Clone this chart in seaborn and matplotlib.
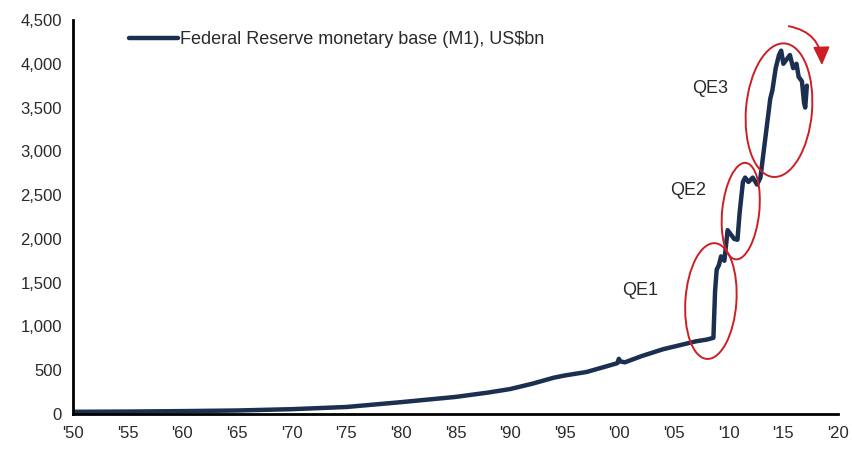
import matplotlib
matplotlib.use("Agg")
import matplotlib.pyplot as plt
import matplotlib.transforms as mtransforms
from matplotlib.patches import Ellipse
from matplotlib.ticker import FuncFormatter
import seaborn as sns
import pandas as pd

# Federal Reserve monetary base, US$bn (approximate readings)
years = [1950, 1955, 1960, 1965, 1970, 1975, 1980, 1985, 1988, 1990, 1992,
         1994, 1995, 1997, 1999.8, 1999.95, 2000.1, 2000.5, 2002, 2004, 2006,
         2007, 2008.0, 2008.6, 2008.75, 2008.9, 2009.1, 2009.3, 2009.6,
         2009.9, 2010.2, 2010.5, 2010.8, 2011.0, 2011.3, 2011.5, 2011.8,
         2012.2, 2012.6, 2012.9, 2013.2, 2013.5, 2013.8, 2014.0, 2014.3,
         2014.6, 2014.8, 2015.0, 2015.3, 2015.6, 2015.9, 2016.2, 2016.4,
         2016.7, 2016.9, 2017.0, 2017.15]
base = [25, 28, 33, 40, 55, 80, 135, 195, 245, 285, 345,
        415, 440, 480, 580, 630, 600, 590, 660, 740, 800,
        830, 850, 870, 1400, 1650, 1700, 1800, 1750,
        2100, 2050, 2000, 1990, 2300, 2650, 2700, 2650,
        2700, 2620, 2700, 3000, 3300, 3600, 3700, 3950,
        4100, 4150, 4000, 4050, 4100, 3950, 4000, 3850,
        3800, 3550, 3500, 3750]

series_label = "Federal Reserve monetary base (M1), US$bn"
x_ticks = list(range(1950, 2021, 5))
x_tick_labels = ["'%02d" % (y % 100) for y in x_ticks]
y_ticks = list(range(0, 4501, 500))

# QE episodes: label position, ellipse centre, ellipse size (inches), tilt
qe_names = ["QE1", "QE2", "QE3"]
qe_label_pos = [(2001.9, 1415), (2006.3, 2557), (2008.3, 3721)]
qe_ellipse_centre = [(2008.37, 1290), (2011.1, 2317), (2014.6, 3470)]
qe_ellipse_size = [(0.51, 1.16), (0.37, 0.97), (0.66, 1.34)]
qe_ellipse_tilt = [-4, -6, -5]

df = pd.DataFrame({"year": years, "base": base})

sns.set_theme(style="white")
plt.rcParams["font.family"] = ["Liberation Sans", "DejaVu Sans"]

navy = "#1b2f50"
red = "#cc1f25"
text_col = "#2a2a2a"

fig = plt.figure(figsize=(8.52, 4.5), dpi=100)
ax = fig.add_axes([73 / 852, 1 - 414 / 450, (838 - 73) / 852, (414 - 20) / 450])

sns.lineplot(data=df, x="year", y="base", ax=ax, color=navy, linewidth=3.2,
             label=series_label, zorder=3)

ax.set_xlim(1950, 2020)
ax.set_ylim(0, 4500)
ax.set_xticks(x_ticks)
ax.set_xticklabels(x_tick_labels)
ax.set_yticks(y_ticks)
ax.yaxis.set_major_formatter(FuncFormatter(lambda v, p: f"{int(v):,}"))
ax.set_xlabel("")
ax.set_ylabel("")

for side in ["top", "right"]:
    ax.spines[side].set_visible(False)
for side in ["left", "bottom"]:
    ax.spines[side].set_color("black")
    ax.spines[side].set_linewidth(2.0)
    ax.spines[side].set_zorder(4)

ax.tick_params(axis="both", which="major", direction="out", length=5, width=1.5,
               color="black", labelsize=12, labelcolor=text_col, pad=3)
ax.tick_params(axis="x", pad=4)

leg = ax.legend(loc="upper left", bbox_to_anchor=(0.064, 0.99), frameon=False,
                fontsize=13, handlelength=2.7, handletextpad=0.12,
                borderaxespad=0)
for t in leg.get_texts():
    t.set_color(text_col)

# QE labels and circles
for name, (lx, ly) in zip(qe_names, qe_label_pos):
    ax.text(lx, ly, name, fontsize=13, color=text_col, ha="center", va="center")

for (cx, cy), (w, h), ang in zip(qe_ellipse_centre, qe_ellipse_size, qe_ellipse_tilt):
    trans = fig.dpi_scale_trans + mtransforms.ScaledTranslation(cx, cy, ax.transData)
    e = Ellipse((0, 0), w, h, angle=ang, transform=trans, fill=False,
                edgecolor=red, linewidth=1.4, zorder=5, clip_on=False)
    ax.add_patch(e)

# curved arrow showing the recent decline
ax.annotate("", xy=(2018.53, 3984), xytext=(2015.5, 4429),
            arrowprops=dict(arrowstyle="-|>,head_length=0.55,head_width=0.25",
                            mutation_scale=20, color=red, linewidth=1.4,
                            shrinkA=0, shrinkB=0,
                            connectionstyle="arc3,rad=-0.4"),
            annotation_clip=False, zorder=6)

fig.savefig("out.png", dpi=100)
